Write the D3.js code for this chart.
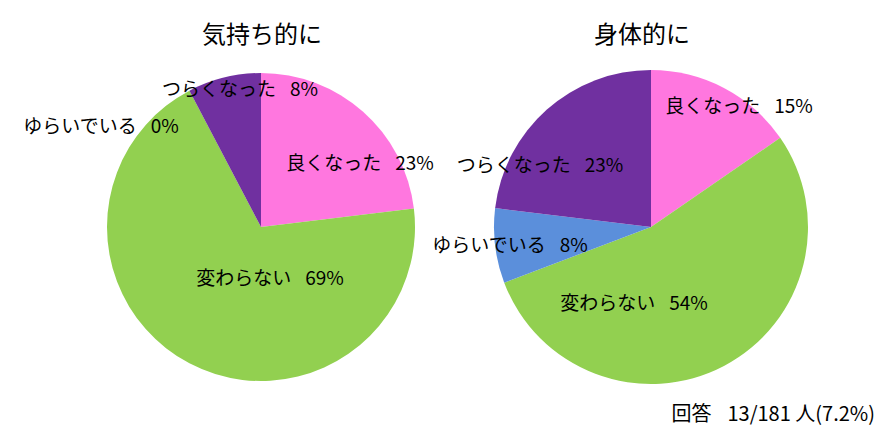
<!DOCTYPE html>
<html>
<head>
<meta charset="utf-8">
<script src="https://cdn.jsdelivr.net/npm/d3@7/dist/d3.min.js"></script>
<style>
  html, body { margin: 0; padding: 0; background: #fff; }
  svg { display: block; }
  text { font-family: "Noto Sans CJK JP", "Noto Sans", sans-serif; fill: #000; }
</style>
</head>
<body>
<svg id="chart" width="895" height="439"></svg>
<script>
// ---- data ----
const categories = ["良くなった", "変わらない", "ゆらいでいる", "つらくなった"];
const mentalCounts = [3, 9, 0, 1];      // 気持ち的に
const physicalCounts = [2, 7, 1, 3];    // 身体的に
const chartTitles = ["気持ち的に", "身体的に"];
const respondents = 13;
const surveyed = 181;
const footerLabel = "回答";

// ---- layout / style ----
const colors = ["#FF77DF", "#92D050", "#5B8FDB", "#7030A0"];
const charts = [
  { counts: mentalCounts, title: chartTitles[0], cx: 261, cy: 227, r: 154, titleX: 262,
    labelOffsets: [[99, -57], [9, 58], [-160, -94], [-21, -131]] },
  { counts: physicalCounts, title: chartTitles[1], cx: 651, cy: 227, r: 157, titleX: 642,
    labelOffsets: [[88, -114], [-17, 83], [-141, 25], [-111, -55]] }
];

const svg = d3.select("#chart");
const pct = d3.format(".0%");
const pie = d3.pie().sort(null).value(d => d.value).startAngle(0).endAngle(2 * Math.PI);

charts.forEach(c => {
  const total = d3.sum(c.counts);
  const data = categories.map((cat, i) => ({ cat, value: c.counts[i], i }));
  const arcs = pie(data);
  const arc = d3.arc().innerRadius(0).outerRadius(c.r);
  const g = svg.append("g").attr("transform", `translate(${c.cx},${c.cy})`);

  g.selectAll("path.slice")
    .data(arcs)
    .join("path")
    .attr("class", "slice")
    .attr("d", arc)
    .attr("fill", d => colors[d.data.i]);

  const lbl = g.selectAll("text.lbl")
    .data(arcs)
    .join("text")
    .attr("class", "lbl")
    .attr("x", d => c.labelOffsets[d.data.i][0])
    .attr("y", d => c.labelOffsets[d.data.i][1])
    .attr("text-anchor", "middle")
    .attr("font-size", 19);
  lbl.append("tspan").text(d => d.data.cat);
  lbl.append("tspan").attr("dx", 14).text(d => pct(d.data.value / total));

  svg.append("text")
    .attr("x", c.titleX)
    .attr("y", 43)
    .attr("text-anchor", "middle")
    .attr("font-size", 24)
    .text(c.title);
});

const footer = svg.append("text")
  .attr("x", 875)
  .attr("y", 421)
  .attr("text-anchor", "end")
  .attr("font-size", 20);
footer.append("tspan").text(footerLabel);
footer.append("tspan").attr("dx", 16)
  .text(`${respondents}/${surveyed} 人(${d3.format(".1%")(respondents / surveyed)})`);
</script>
</body>
</html>
